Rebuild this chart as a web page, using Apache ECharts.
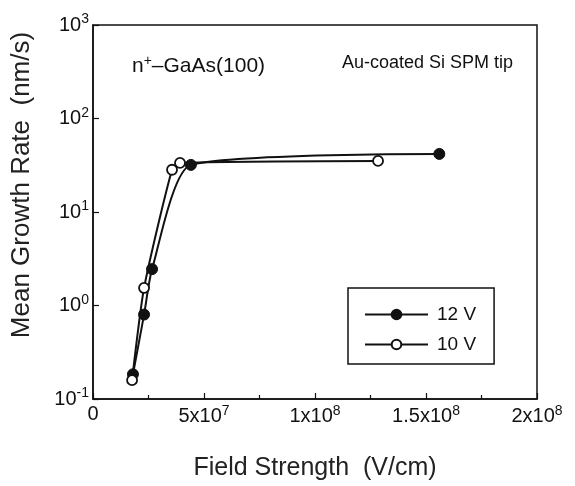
<!DOCTYPE html>
<html>
<head>
<meta charset="utf-8">
<script src="https://cdn.jsdelivr.net/npm/echarts@6/dist/echarts.min.js"></script>
<style>
  html, body { margin: 0; padding: 0; background: #fff; }
  #chart { width: 575px; height: 486px; }
</style>
</head>
<body>
<div id="chart"></div>
<script>
// field strength (V/cm) and mean growth rate (nm/s)
var field12 = [1.8e7, 2.3e7, 2.66e7, 4.41e7, 1.56e8];
var rate12 = [0.184, 0.80, 2.45, 31.9, 41.8];
var field10 = [1.76e7, 2.3e7, 3.56e7, 3.92e7, 1.284e8];
var rate10 = [0.159, 1.54, 28.3, 33.5, 35.2];
var xTicks = [0, 5e7, 1e8, 1.5e8, 2e8];
var xTickText = ['0', '5x10{sup|7}', '1x10{sup|8}', '1.5x10{sup|8}', '2x10{sup|8}'];

var font = 'Liberation Sans, Arial, sans-serif';
var chart = echarts.init(document.getElementById('chart'));

function pairs(xs, ys) {
  return xs.map(function (x, i) { return [x, ys[i]]; });
}

var supRich = {
  sup: { fontSize: 14, fontFamily: font, color: '#111', padding: [0, 0, 11, 0] }
};

chart.setOption({
  backgroundColor: '#fff',
  animation: false,
  grid: {
    left: 93, right: 38, top: 25, bottom: 84,
    show: true, borderColor: '#111', borderWidth: 1.5
  },
  xAxis: {
    type: 'value',
    min: 0, max: 2e8, interval: 5e7,
    name: 'Field Strength  (V/cm)',
    nameLocation: 'middle',
    nameGap: 57,
    nameTextStyle: { fontFamily: font, fontSize: 25, color: '#222' },
    axisLine: { lineStyle: { color: '#111', width: 1.5 } },
    axisTick: { inside: true, length: 6, lineStyle: { color: '#111', width: 1.2 } },
    minorTick: { show: true, splitNumber: 2, length: 4, lineStyle: { color: '#111', width: 1.2 } },
    splitLine: { show: false },
    axisLabel: {
      margin: 5,
      fontFamily: font, fontSize: 20, color: '#111',
      formatter: function (v) {
        var i = xTicks.indexOf(v);
        return i >= 0 ? xTickText[i] : '';
      },
      rich: supRich
    }
  },
  yAxis: {
    type: 'log',
    logBase: 10,
    min: 0.1, max: 1000,
    axisLine: { lineStyle: { color: '#111', width: 1.5 } },
    axisTick: { inside: true, length: 6, lineStyle: { color: '#111', width: 1.2 } },
    splitLine: { show: false },
    axisLabel: {
      margin: 4,
      fontFamily: font, fontSize: 20, color: '#111',
      formatter: function (v) {
        return '10{sup|' + Math.round(Math.log10(v)) + '}';
      },
      rich: supRich
    }
  },
  legend: {
    orient: 'vertical',
    left: 348, top: 288,
    padding: [17, 18, 10, 16],
    itemWidth: 63, itemHeight: 12, itemGap: 11,
    borderColor: '#111', borderWidth: 1.5,
    textStyle: { fontFamily: font, fontSize: 19, color: '#111', padding: [0, 0, 0, 4] },
    data: ['12 V', '10 V']
  },
  graphic: [
    {
      type: 'text', left: 132, top: 54,
      style: {
        text: 'n{sup|+}–GaAs(100)',
        font: '21px ' + font, fill: '#111',
        rich: { sup: { fontSize: 14, fontFamily: font, fill: '#111', padding: [0, 0, 10, 0] } }
      }
    },
    {
      type: 'text', left: 342, top: 54,
      style: { text: 'Au-coated Si SPM tip', font: '18px ' + font, fill: '#111' }
    },
    {
      type: 'text', x: 22, y: 185, rotation: Math.PI / 2,
      style: {
        text: 'Mean Growth Rate  (nm/s)',
        font: '26px ' + font, fill: '#222',
        align: 'center', verticalAlign: 'middle'
      }
    }
  ],
  series: [
    {
      name: '12 V', type: 'line',
      data: pairs(field12, rate12),
      smooth: 0.2,
      symbol: 'circle', symbolSize: 11,
      lineStyle: { color: '#111', width: 2 },
      itemStyle: { color: '#111', borderColor: '#111', borderWidth: 1 }
    },
    {
      name: '10 V', type: 'line',
      data: pairs(field10, rate10),
      smooth: 0.2,
      symbol: 'circle', symbolSize: 10,
      lineStyle: { color: '#111', width: 2 },
      itemStyle: { color: '#fff', borderColor: '#111', borderWidth: 1.8 }
    }
  ]
});
</script>
</body>
</html>
